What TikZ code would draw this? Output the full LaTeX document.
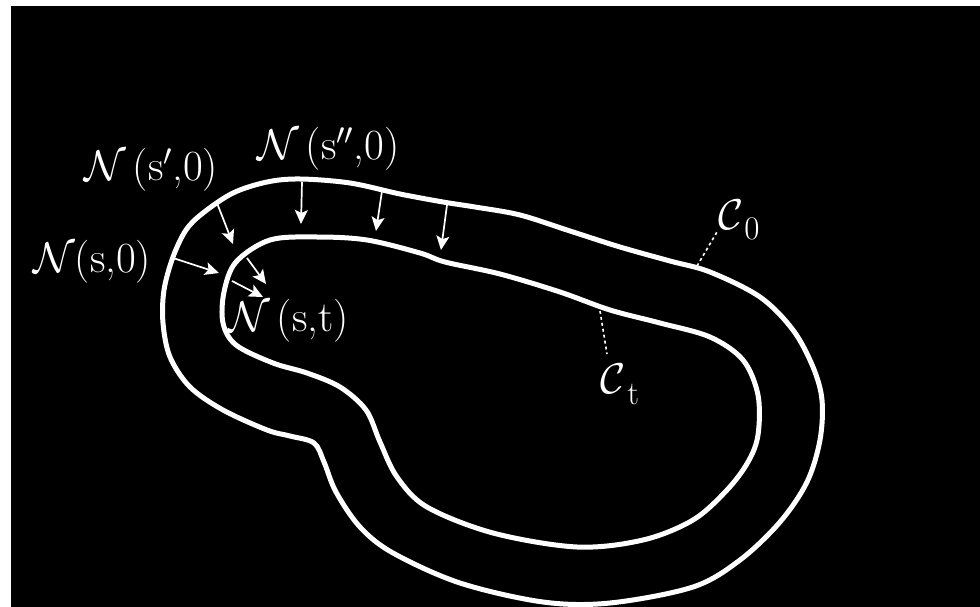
\RequirePackage{fix-cm}
\documentclass[tikz,border=0pt]{standalone}
\usetikzlibrary{arrows.meta}
\begin{document}
\begin{tikzpicture}[x=1pt,y=-1pt,
  curve/.style={draw=white, line width=5pt, line join=round},
  normal/.style={draw=white, line width=1.7pt, -{Stealth[length=14pt,width=13pt,inset=3pt]}},
  lbl/.style={text=white, font=\fontsize{43}{46}\selectfont, inner sep=0pt, anchor=base west},
  guide/.style={draw=white, line width=1.6pt, dash pattern=on 3pt off 3pt}]
\useasboundingbox (0,0) rectangle (980,607);
\fill[black] (11,6) rectangle (980,607);

% outer curve C0
\draw[curve] plot[smooth cycle, tension=0.55] coordinates {
  (300,179) (350,183) (400,194) (443,202) (475,207) (520,215) (570,231)
  (620,247) (670,261) (710,272) (760,297) (793,330) (813,367) (822,400)
  (820,440) (807,482) (780,522) (740,560) (693,587) (610,603) (543,602)
  (460,583) (393,553) (360,527) (336,492) (324,462) (314,443) (290,436)
  (267,430) (223,410) (190,387) (170,357) (163,323) (164,290) (173,257)
  (186,230) (203,213) (233,193) (267,182)};

% inner curve Ct
\draw[curve] plot[smooth cycle, tension=0.55] coordinates {
  (270,240) (317,237) (367,240) (420,253) (445,262) (500,274) (560,292)
  (610,310) (660,323) (710,337) (743,360) (758,395) (758,435) (748,462)
  (727,490) (693,520) (643,540) (577,547) (493,533) (427,507) (397,477)
  (380,442) (366,410) (340,387) (307,373) (273,363) (236,345) (223,323)
  (224,292) (236,262)};

% normal arrows
\coordinate (a1s) at (173,258); \coordinate (a1e) at (219,273);
\coordinate (a2s) at (217,203); \coordinate (a2e) at (233,244);
\coordinate (a3s) at (302,182); \coordinate (a3e) at (301,224);
\coordinate (a4s) at (382,191); \coordinate (a4e) at (376,231);
\coordinate (a5s) at (447,205); \coordinate (a5e) at (441,250);
\coordinate (a6s) at (247,258); \coordinate (a6e) at (266,284);
\coordinate (a7s) at (232,281); \coordinate (a7e) at (263,297);
\draw[normal] (a1s) -- (a1e);
\draw[normal] (a2s) -- (a2e);
\draw[normal] (a3s) -- (a3e);
\draw[normal] (a4s) -- (a4e);
\draw[normal] (a5s) -- (a5e);
\draw[normal] (a6s) -- (a6e);
\draw[normal] (a7s) -- (a7e);

% labels
\node[lbl] (ns0) at (33,272) {$\mathcal{N}$(s,0)};
\node[lbl] (nsp) at (84,181) {$\mathcal{N}$\,(s$'$,0)};
\node[lbl] (nspp) at (257,160) {$\mathcal{N}$\,(s$''$,0)};
\node[lbl] (nst) at (228,331) {$\mathcal{N}$\,(s,t)};
\node[lbl] (c0) at (718,229) {$\mathcal{C}$\kern1pt\raisebox{-10pt}{\fontsize{33}{35}\selectfont 0}};
\node[lbl] (ct) at (600,393) {$\mathcal{C}$\kern2pt\raisebox{-11pt}{\fontsize{33}{35}\selectfont t}};

% guide lines
\coordinate (g0s) at (697,266); \coordinate (g0e) at (717,232);
\coordinate (gts) at (600,311); \coordinate (gte) at (607,354);
\draw[guide] (g0s) -- (g0e);
\draw[guide] (gts) -- (gte);
\end{tikzpicture}
\end{document}
